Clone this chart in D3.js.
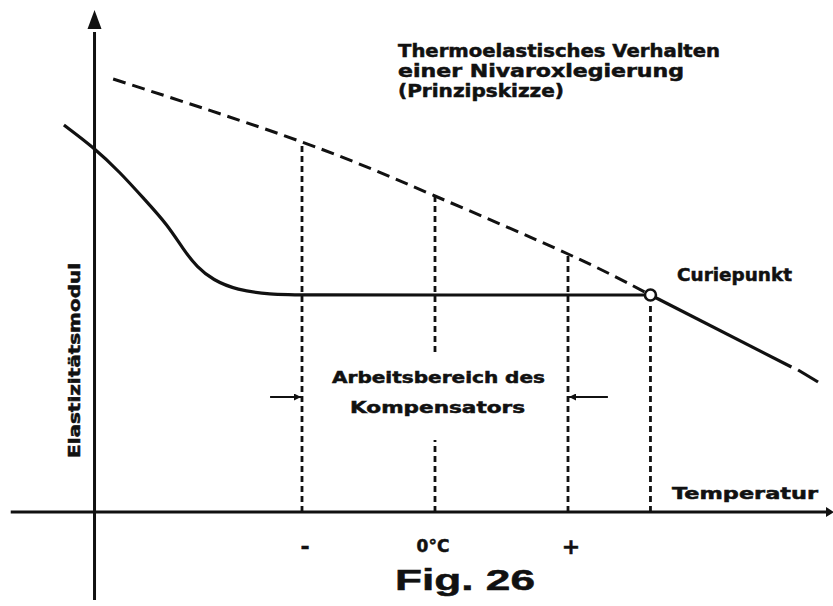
<!DOCTYPE html>
<meta charset="utf-8">
<style>
body { margin: 0; background: #fff; }
.chart text { font-family: "DejaVu Sans", "Liberation Sans", sans-serif; font-weight: bold; fill: #111; stroke: #111; stroke-width: 0.5px; }
</style>
<svg class="chart"></svg>
<script src="https://cdn.jsdelivr.net/npm/d3@7"></script>
<script>

var width = 833,
    height = 606;

// temperature ticks (arbitrary units, 0 = 0°C)
var tickT = [-1, 0, 1];
var tickLabels = ["-", "0°C", "+"];

// extrapolated (paramagnetic) modulus, dashed
var paraT = [-2.42, -1, 0, 1, 1.62];
var paraE = [4.33, 3.70, 3.16, 2.58, 2.17];

// real modulus of the alloy, solid
var realT = [-2.79, -2.57, -2.37, -2.18, -2.01, -1.89, -1.79, -1.67, -1.49, -1.24, -1.0, 0, 1.62];
var realE = [3.87, 3.65, 3.40, 3.12, 2.87, 2.62, 2.45, 2.32, 2.22, 2.175, 2.17, 2.17, 2.17];

// above the Curie point
var curieT = 1.62, curieE = 2.17;
var highT = [1.62, 2.68];
var highE = [2.17, 1.45];
var tailT = [2.73, 2.88];
var tailE = [1.42, 1.30];

// working range of the compensator
var rangeT = [-1, 1];
var arrowE = 1.15;

var x = d3.scaleLinear().domain([-1, 1]).range([302, 568]);
var y = d3.scaleLinear().domain([0, 5]).range([512, 12]);

var svg = d3.select(".chart")
    .attr("width", width)
    .attr("height", height);

var defs = svg.append("defs");
defs.append("marker")
    .attr("id", "head")
    .attr("viewBox", "0 0 10 10")
    .attr("refX", 10).attr("refY", 5)
    .attr("markerWidth", 9).attr("markerHeight", 7)
    .attr("markerUnits", "userSpaceOnUse")
    .attr("orient", "auto")
  .append("path")
    .attr("d", "M0,0L10,5L0,10z")
    .attr("fill", "#111");

var line = d3.line()
    .x(function(d) { return x(d[0]); })
    .y(function(d) { return y(d[1]); });

// axes
svg.append("line")
    .attr("x1", x(-2.56)).attr("y1", y(-0.88))
    .attr("x2", x(-2.56)).attr("y2", y(4.8))
    .attr("stroke", "#111").attr("stroke-width", 3);
svg.append("path")
    .attr("d", "M" + x(-2.56) + "," + y(5.02) + "L" + (x(-2.56) - 7) + "," + y(4.83) + "L" + (x(-2.56) + 7) + "," + y(4.83) + "z")
    .attr("fill", "#111");

svg.append("line")
    .attr("x1", x(-3.19)).attr("y1", y(0))
    .attr("x2", x(2.97)).attr("y2", y(0))
    .attr("stroke", "#111").attr("stroke-width", 3);
svg.append("path")
    .attr("d", "M" + x(3.0) + "," + y(0) + "L" + (x(3.0) - 8) + "," + (y(0) - 5) + "L" + (x(3.0) - 8) + "," + (y(0) + 5) + "z")
    .attr("fill", "#111");

// dashed verticals
var verticals = [
  { t: tickT[0], from: 0, to: paraE[1] },
  { t: tickT[1], from: 0, to: 0.72 },
  { t: tickT[1], from: 1.60, to: paraE[2] },
  { t: tickT[2], from: 0, to: paraE[3] },
  { t: curieT, from: 0, to: curieE - 0.08 }
];
svg.selectAll(".vert")
    .data(verticals)
  .enter().append("line")
    .attr("class", "vert")
    .attr("x1", function(d) { return x(d.t); })
    .attr("x2", function(d) { return x(d.t); })
    .attr("y1", function(d) { return y(d.from); })
    .attr("y2", function(d) { return y(d.to); })
    .attr("stroke", "#111")
    .attr("stroke-width", 2.8)
    .attr("stroke-dasharray", "6,4");

// paramagnetic dashed line
svg.append("path")
    .datum(d3.zip(paraT, paraE))
    .attr("d", line.curve(d3.curveNatural))
    .attr("fill", "none")
    .attr("stroke", "#111")
    .attr("stroke-width", 3)
    .attr("stroke-dasharray", "13,7");

// real curve
svg.append("path")
    .datum(d3.zip(realT, realE))
    .attr("d", line.curve(d3.curveBasis))
    .attr("fill", "none")
    .attr("stroke", "#111")
    .attr("stroke-width", 3.2);

svg.append("path")
    .datum(d3.zip(highT, highE))
    .attr("d", line.curve(d3.curveLinear))
    .attr("fill", "none")
    .attr("stroke", "#111")
    .attr("stroke-width", 3.2);

svg.append("path")
    .datum(d3.zip(tailT, tailE))
    .attr("d", line.curve(d3.curveLinear))
    .attr("fill", "none")
    .attr("stroke", "#111")
    .attr("stroke-width", 3.2);

// Curie point
svg.append("circle")
    .attr("cx", x(curieT)).attr("cy", y(curieE))
    .attr("r", 5.5)
    .attr("fill", "#fff")
    .attr("stroke", "#111")
    .attr("stroke-width", 2.6);

// range arrows
svg.append("line")
    .attr("x1", x(rangeT[0] - 0.24)).attr("y1", y(arrowE))
    .attr("x2", x(rangeT[0]) - 1).attr("y2", y(arrowE))
    .attr("stroke", "#111").attr("stroke-width", 2)
    .attr("marker-end", "url(#head)");
svg.append("line")
    .attr("x1", x(rangeT[1] + 0.30)).attr("y1", y(arrowE))
    .attr("x2", x(rangeT[1]) + 1).attr("y2", y(arrowE))
    .attr("stroke", "#111").attr("stroke-width", 2)
    .attr("marker-end", "url(#head)");

// tick labels
svg.selectAll(".tick")
    .data(tickT)
  .enter().append("text")
    .attr("class", "tick")
    .attr("x", function(d) { return x(d) + (d === 0 ? -2 : 3); })
    .attr("y", function(d) { return d === 0 ? 552 : 554; })
    .attr("text-anchor", "middle")
    .style("font-size", function(d) { return d === 0 ? "17px" : "22px"; })
    .text(function(d, i) { return tickLabels[i]; });

// texts
function label(txt, px, py, size, len) {
  var t = svg.append("text")
      .attr("x", px).attr("y", py)
      .style("font-size", size + "px")
      .text(txt);
  if (len) t.attr("textLength", len).attr("lengthAdjust", "spacingAndGlyphs");
  return t;
}

label("Thermoelastisches Verhalten", 398, 57, 17, 322);
label("einer  Nivaroxlegierung", 398, 77, 17, 286);
label("(Prinzipskizze)", 398, 97, 17, 166);
label("Curiepunkt", 677, 281, 17, 115);
label("Temperatur", 672, 499, 16, 146);
label("Arbeitsbereich des", 332, 383, 16, 213);
label("Kompensators", 350, 413, 16, 175);
label("Fig. 26", 395, 590, 30, 140).style("font-family", "\"Liberation Sans\", sans-serif");

svg.append("text")
    .attr("transform", "translate(80,458) rotate(-90)")
    .style("font-size", "15px")
    .attr("textLength", 195)
    .attr("lengthAdjust", "spacingAndGlyphs")
    .text("Elastizitätsmodul");

</script>
